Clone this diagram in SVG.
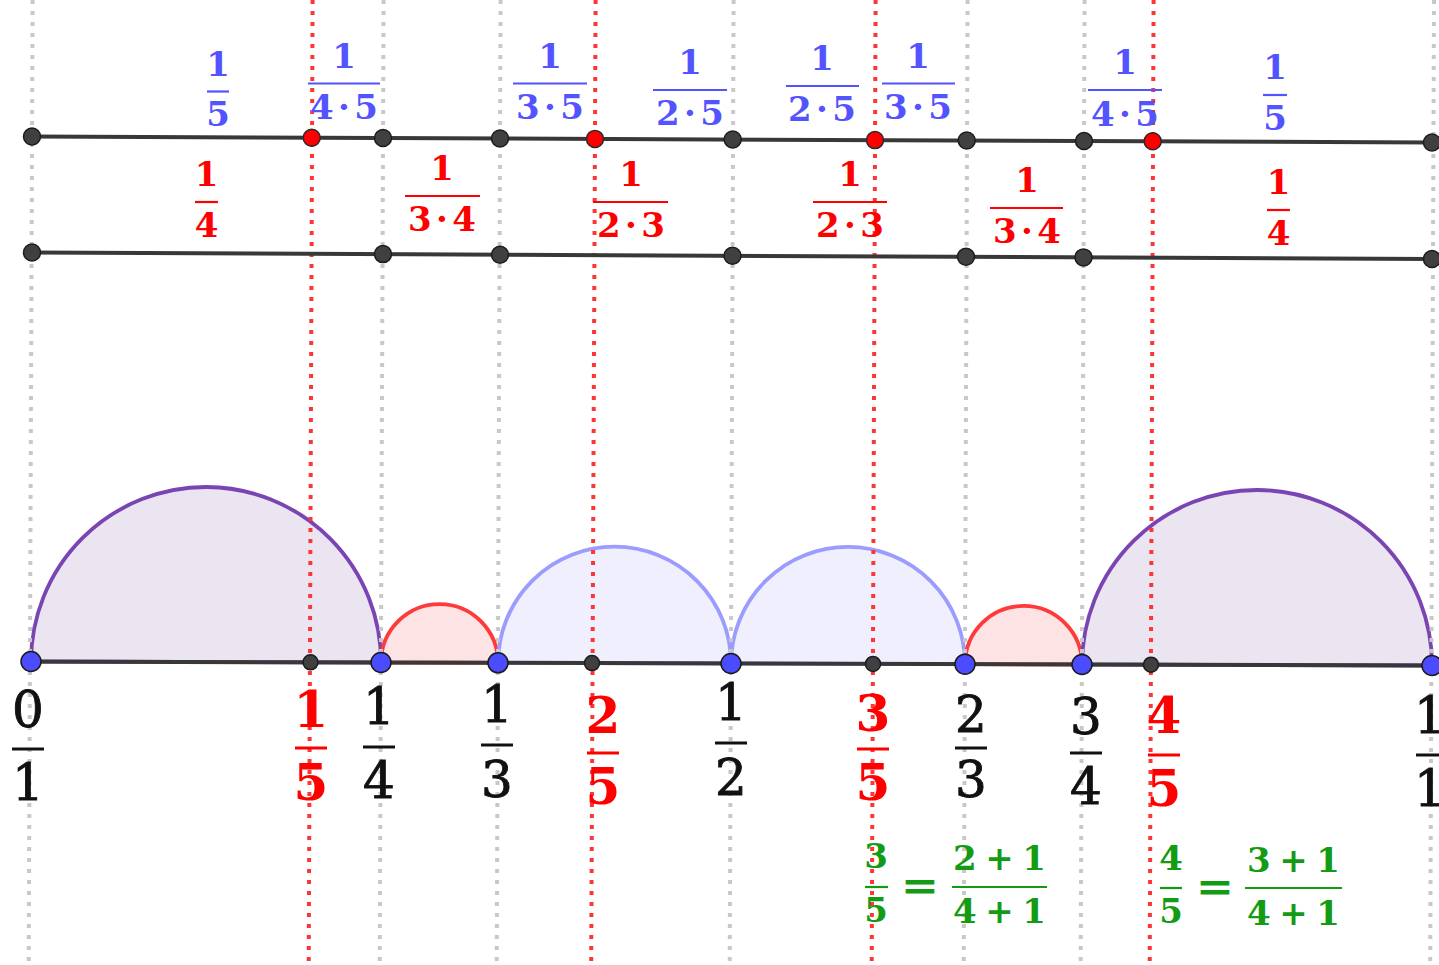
<svg xmlns="http://www.w3.org/2000/svg" width="1439" height="965" viewBox="0 0 1439 965">
<style>
.gv{stroke:#c8c8c8;stroke-width:4;stroke-dasharray:4 7;fill:none}
.rv{stroke:#ff3535;stroke-width:4;stroke-dasharray:4 7;fill:none}
.ln{stroke:#383838;stroke-width:4;fill:none}
.pd{fill:#404040;stroke:#1c1c1c;stroke-width:1.5}
.pr{fill:#ff0000;stroke:#2a2a2a;stroke-width:1.5}
.pb{fill:#4b4bff;stroke:#1c1c1c;stroke-width:1.5}
.ap{fill:#ebe5f1;stroke:#7a44b3;stroke-width:3.8}
.ar{fill:#fde3e3;stroke:#ff3a3a;stroke-width:3.8}
.ab{fill:#efeffd;stroke:#9c9cff;stroke-width:3.8}
text{font-family:"DejaVu Serif","Liberation Serif",serif;text-anchor:middle}
.tb text{fill:#5353ff;font-size:34px;font-weight:bold}
.tb line{stroke:#5353ff;stroke-width:2.2}
.tr text{fill:#ff0000;font-size:34px;font-weight:bold}
.tr line{stroke:#ff0000;stroke-width:2.2}
.bk text{fill:#111111;stroke:#111111;stroke-width:0.9;font-size:50px}
.bk line{stroke:#111111;stroke-width:3}
.br text{fill:#ff0000;font-size:50px;font-weight:bold}
.br line{stroke:#ff0000;stroke-width:3}
.gr text{fill:#139b13;font-size:34px;font-weight:bold}
.gr text.eq{font-size:44px;font-weight:normal;stroke:#139b13;stroke-width:1}
.gr line{stroke:#139b13;stroke-width:2.2}
</style>
<g id="arcs">
  <path class="ap" d="M31 661.5 A175 175 0 0 1 381 662.5 Z"/>
  <path class="ar" d="M381 662.5 A58.5 58.5 0 0 1 498 662.8 Z"/>
  <path class="ab" d="M498 662.8 A116.5 116.5 0 0 1 731 663.5 Z"/>
  <path class="ab" d="M731 663.5 A117 117 0 0 1 965 664.2 Z"/>
  <path class="ar" d="M965 664.2 A58.5 58.5 0 0 1 1082 664.5 Z"/>
  <path class="ap" d="M1082 664.5 A175 175 0 0 1 1432 665.5 Z"/>
</g>
<g id="connectors">
  <line class="gv" x1="32.6" y1="0" x2="28.7" y2="965"/>
  <line class="gv" x1="383.6" y1="0" x2="379.7" y2="965"/>
  <line class="gv" x1="500.6" y1="0" x2="496.7" y2="965"/>
  <line class="gv" x1="733.6" y1="0" x2="729.7" y2="965"/>
  <line class="gv" x1="967.6" y1="0" x2="963.7" y2="965"/>
  <line class="gv" x1="1084.6" y1="0" x2="1080.7" y2="965"/>
  <line class="gv" x1="1434" y1="0" x2="1430.2" y2="965"/>
  <line class="rv" x1="312.6" y1="0" x2="308.7" y2="965"/>
  <line class="rv" x1="595.6" y1="0" x2="591.2" y2="965"/>
  <line class="rv" x1="875.6" y1="0" x2="871.7" y2="965"/>
  <line class="rv" x1="1153.6" y1="0" x2="1149.7" y2="965"/>
  <line class="ln" x1="32" y1="136.5" x2="1432" y2="142.5"/>
  <line class="ln" x1="32" y1="252.5" x2="1432" y2="259"/>
  <line class="ln" x1="31" y1="661.5" x2="1432" y2="665.5"/>
</g>
<g id="points-top">
  <circle class="pd" cx="32" cy="136.5" r="8.5"/>
  <circle class="pr" cx="311.7" cy="137.7" r="8.5"/>
  <circle class="pd" cx="383" cy="138" r="8.5"/>
  <circle class="pd" cx="500" cy="138.5" r="8.5"/>
  <circle class="pr" cx="595" cy="138.9" r="8.5"/>
  <circle class="pd" cx="732.7" cy="139.5" r="8.5"/>
  <circle class="pr" cx="875" cy="140.1" r="8.5"/>
  <circle class="pd" cx="966.7" cy="140.5" r="8.5"/>
  <circle class="pd" cx="1084" cy="141" r="8.5"/>
  <circle class="pr" cx="1152.7" cy="141.3" r="8.5"/>
  <circle class="pd" cx="1432" cy="142.5" r="8.5"/>
</g>
<g id="points-middle">
  <circle class="pd" cx="32" cy="252.5" r="8.5"/>
  <circle class="pd" cx="383" cy="254.1" r="8.5"/>
  <circle class="pd" cx="500" cy="254.7" r="8.5"/>
  <circle class="pd" cx="732.5" cy="255.8" r="8.5"/>
  <circle class="pd" cx="966" cy="256.8" r="8.5"/>
  <circle class="pd" cx="1083.5" cy="257.4" r="8.5"/>
  <circle class="pd" cx="1432" cy="259" r="8.5"/>
</g>
<g id="points-bottom">
  <circle class="pd" cx="310.5" cy="662.3" r="7.5"/>
  <circle class="pd" cx="592" cy="663.1" r="7.5"/>
  <circle class="pd" cx="873" cy="663.9" r="7.5"/>
  <circle class="pd" cx="1151" cy="664.7" r="7.5"/>
  <circle class="pb" cx="31" cy="661.5" r="10"/>
  <circle class="pb" cx="381" cy="662.5" r="10"/>
  <circle class="pb" cx="498" cy="662.8" r="10"/>
  <circle class="pb" cx="731" cy="663.5" r="10"/>
  <circle class="pb" cx="965" cy="664.2" r="10"/>
  <circle class="pb" cx="1082" cy="664.5" r="10"/>
  <circle class="pb" cx="1432" cy="665.5" r="10"/>
</g>
<g id="labels-blue">
  <g id="b1" class="tb"><text x="218" y="75.5">1</text><line x1="207" y1="91.5" x2="229" y2="91.5"/><text x="218" y="126">5</text></g>
  <g id="b2" class="tb"><text x="344" y="67.5">1</text><line x1="308" y1="83.5" x2="380" y2="83.5"/><text x="344" y="119" textLength="68" lengthAdjust="spacing">4 · 5</text></g>
  <g id="b3" class="tb"><text x="550" y="67.5">1</text><line x1="513" y1="83.5" x2="587" y2="83.5"/><text x="550" y="119" textLength="68" lengthAdjust="spacing">3 · 5</text></g>
  <g id="b4" class="tb"><text x="690" y="74">1</text><line x1="653" y1="90" x2="727" y2="90"/><text x="690" y="125" textLength="68" lengthAdjust="spacing">2 · 5</text></g>
  <g id="b5" class="tb"><text x="822" y="70">1</text><line x1="786" y1="86" x2="859" y2="86"/><text x="822" y="121" textLength="68" lengthAdjust="spacing">2 · 5</text></g>
  <g id="b6" class="tb"><text x="918" y="67.5">1</text><line x1="882" y1="83.5" x2="955" y2="83.5"/><text x="918" y="119" textLength="68" lengthAdjust="spacing">3 · 5</text></g>
  <g id="b7" class="tb"><text x="1125" y="74">1</text><line x1="1088" y1="90" x2="1162" y2="90"/><text x="1125" y="126" textLength="68" lengthAdjust="spacing">4 · 5</text></g>
  <g id="b8" class="tb"><text x="1275" y="79">1</text><line x1="1263" y1="95" x2="1287" y2="95"/><text x="1275" y="130">5</text></g>
</g>
<g id="labels-red">
  <g id="r1" class="tr"><text x="206.5" y="186">1</text><line x1="195" y1="202" x2="218" y2="202"/><text x="206.5" y="237">4</text></g>
  <g id="r2" class="tr"><text x="442" y="180">1</text><line x1="405" y1="196" x2="480" y2="196"/><text x="442" y="231" textLength="68" lengthAdjust="spacing">3 · 4</text></g>
  <g id="r3" class="tr"><text x="631" y="186">1</text><line x1="593" y1="202" x2="668" y2="202"/><text x="631" y="237" textLength="68" lengthAdjust="spacing">2 · 3</text></g>
  <g id="r4" class="tr"><text x="850" y="186">1</text><line x1="813" y1="202" x2="887" y2="202"/><text x="850" y="237" textLength="68" lengthAdjust="spacing">2 · 3</text></g>
  <g id="r5" class="tr"><text x="1027" y="192">1</text><line x1="990" y1="208" x2="1063" y2="208"/><text x="1027" y="243" textLength="68" lengthAdjust="spacing">3 · 4</text></g>
  <g id="r6" class="tr"><text x="1278.5" y="194">1</text><line x1="1267" y1="210" x2="1290" y2="210"/><text x="1278.5" y="245">4</text></g>
</g>
<g id="labels-axis">
  <g id="f0-1" class="bk"><text x="28" y="727">0</text><line x1="12" y1="749" x2="44" y2="749"/><text x="28" y="800">1</text></g>
  <g id="f1-5" class="br"><text x="311" y="727">1</text><line x1="295" y1="748" x2="327" y2="748"/><text x="311" y="800">5</text></g>
  <g id="f1-4" class="bk"><text x="379" y="724">1</text><line x1="363" y1="747" x2="395" y2="747"/><text x="379" y="798">4</text></g>
  <g id="f1-3" class="bk"><text x="497" y="722">1</text><line x1="481" y1="745" x2="513" y2="745"/><text x="497" y="797">3</text></g>
  <g id="f2-5" class="br"><text x="603" y="733">2</text><line x1="587" y1="753" x2="619" y2="753"/><text x="603" y="804">5</text></g>
  <g id="f1-2" class="bk"><text x="731" y="720">1</text><line x1="715" y1="743" x2="747" y2="743"/><text x="731" y="795">2</text></g>
  <g id="f3-5" class="br"><text x="873" y="731">3</text><line x1="857" y1="749" x2="889" y2="749"/><text x="873" y="800">5</text></g>
  <g id="f2-3" class="bk"><text x="971" y="732">2</text><line x1="955" y1="748" x2="987" y2="748"/><text x="971" y="797">3</text></g>
  <g id="f3-4" class="bk"><text x="1086" y="734">3</text><line x1="1070" y1="753" x2="1102" y2="753"/><text x="1086" y="804">4</text></g>
  <g id="f4-5" class="br"><text x="1164" y="733">4</text><line x1="1148" y1="755" x2="1180" y2="755"/><text x="1164" y="806">5</text></g>
  <g id="f1-1" class="bk"><text x="1430" y="733">1</text><line x1="1416" y1="755" x2="1448" y2="755"/><text x="1430" y="806">1</text></g>
</g>
<g id="labels-green">
  <g id="eq1" class="gr">
    <text x="876" y="868">3</text><line x1="865" y1="887" x2="888" y2="887"/><text x="876" y="922">5</text>
    <text class="eq" x="920" y="901">=</text>
    <text x="999.5" y="870" textLength="93" lengthAdjust="spacing">2 + 1</text><line x1="952" y1="887" x2="1047" y2="887"/><text x="999.5" y="923" textLength="93" lengthAdjust="spacing">4 + 1</text>
  </g>
  <g id="eq2" class="gr">
    <text x="1171" y="870">4</text><line x1="1160" y1="888" x2="1182" y2="888"/><text x="1171" y="923">5</text>
    <text class="eq" x="1215" y="902">=</text>
    <text x="1293.5" y="872" textLength="93" lengthAdjust="spacing">3 + 1</text><line x1="1245" y1="888" x2="1342" y2="888"/><text x="1293.5" y="925" textLength="93" lengthAdjust="spacing">4 + 1</text>
  </g>
</g>
</svg>
